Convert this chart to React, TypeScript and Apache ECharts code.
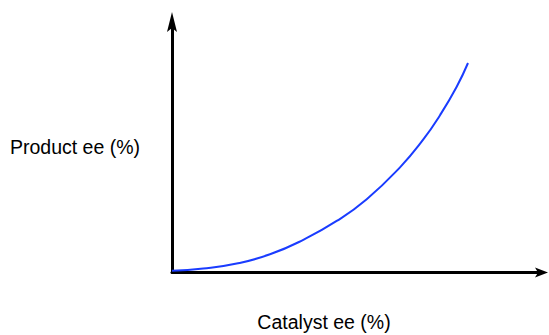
import React, { useEffect, useRef } from "react";
import * as echarts from "echarts";

// Curve (catalyst ee -> product ee)
const catalystEe: number[] = [0, 10.57, 21.86, 33.11, 44.36, 55.64, 65.78, 77.03, 84.9, 90.54, 96.18, 100];
const productEe: number[] = [0.86, 1.86, 4.25, 8.69, 15.6, 24.6, 35.0, 50.2, 63.5, 75.1, 88.7, 100];

const xAxisTitle = "Catalyst ee (%)";
const yAxisTitle = "Product ee (%)";

const yArrow = "path://M5,0L10,20L5,16L0,20Z";
const xArrow = "path://M5,0L10,13L5,10L0,13Z";

export default function App() {
  const ref = useRef<HTMLDivElement>(null);
  useEffect(() => {
    if (!ref.current) return;
    const chart = echarts.init(ref.current, undefined, { renderer: "svg" });
    const data = catalystEe.map((x, i) => [x, productEe[i]]);
    chart.setOption({
      animation: false,
      grid: { left: 172, right: 7.5, top: 22, bottom: 62.5, containLabel: false },
      xAxis: {
        type: "value",
        min: 0,
        max: 124.83,
        axisLine: {
          show: true,
          onZero: false,
          lineStyle: { color: "#000", width: 3 },
          symbol: ["none", xArrow],
          symbolSize: [10, 13],
        },
        axisTick: { show: false },
        axisLabel: { show: false },
        splitLine: { show: false },
      },
      yAxis: {
        type: "value",
        min: 0,
        max: 119.57,
        axisLine: {
          show: true,
          onZero: false,
          lineStyle: { color: "#000", width: 3 },
          symbol: ["none", yArrow],
          symbolSize: [10, 20],
        },
        axisTick: { show: false },
        axisLabel: { show: false },
        splitLine: { show: false },
      },
      series: [
        {
          type: "line",
          data,
          smooth: true,
          showSymbol: false,
          lineStyle: { color: "#1a3cff", width: 2 },
        },
      ],
      graphic: [
        {
          type: "text",
          left: 10,
          top: 137,
          style: {
            text: yAxisTitle,
            fontSize: 19.5,
            fontFamily: "Liberation Sans, Arial, sans-serif",
            fill: "#000",
          },
        },
        {
          type: "text",
          x: 324,
          y: 322,
          style: {
            text: xAxisTitle,
            fontSize: 19.5,
            fontFamily: "Liberation Sans, Arial, sans-serif",
            fill: "#000",
            align: "center",
            verticalAlign: "middle",
          },
        },
      ],
    });
    return () => chart.dispose();
  }, []);
  return <div ref={ref} style={{ width: 549, height: 335, position: "absolute", left: 0, top: 0 }} />;
}
